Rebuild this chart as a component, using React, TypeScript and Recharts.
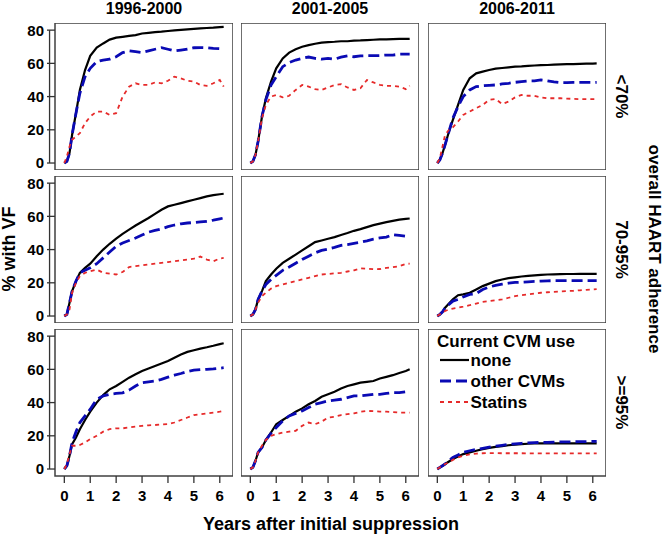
import React from 'react';
import { LineChart, Line, XAxis, YAxis, ReferenceArea, ReferenceLine, Legend } from 'recharts';

const periods = ['1996-2000', '2001-2005', '2006-2011'];
const adherence = ['<70%', '70-95%', '>=95%'];
const seriesNames = ['none', 'other CVMs', 'Statins'];
const yTicks = [0, 20, 40, 60, 80];
const xTicks = [0, 1, 2, 3, 4, 5, 6];

// years after initial suppression (shared sampling grid)
const years = [0, 0.1, 0.2, 0.3, 0.45, 0.6, 0.8, 1, 1.25, 1.5, 1.75, 2, 2.25, 2.5, 2.75, 3, 3.25, 3.5, 3.75, 4, 4.25, 4.5, 4.75, 5, 5.25, 5.5, 5.75, 6, 6.15];

// adherence <70%
const none_96_lo = [0, 1, 6, 17, 30, 44, 56, 64.5, 69.5, 72, 74.3, 75.5, 76, 76.5, 77, 78, 78.4, 78.8, 79.1, 79.5, 79.9, 80.2, 80.5, 80.8, 81.1, 81.3, 81.5, 81.8, 82];
const other_96_lo = [0, 1, 6, 17, 30, 42, 52, 57, 61, 62, 62.5, 64, 66.5, 67.5, 67, 66.5, 67.5, 68.5, 69.4, 68.5, 67.5, 68, 68.5, 69.4, 69.5, 69.4, 69, 68.8, 69.5];
const statins_96_lo = [0, 4, 10, 14, 16, 18, 24, 28, 31, 31, 29, 30, 40, 46, 48, 47, 47, 48.5, 48, 49.5, 52, 51, 49.5, 49, 47, 46.5, 48, 50, 46];
const none_01_lo = [0, 1, 5, 13, 28, 39, 49, 57, 63, 66.5, 68.5, 70, 71, 71.8, 72.5, 72.8, 73, 73.3, 73.3, 73.7, 73.8, 74, 74.2, 74.4, 74.5, 74.6, 74.7, 74.7, 74.8];
const other_01_lo = [0, 1, 5, 13, 28, 38, 47, 52, 58, 60.5, 62, 63, 63.8, 63, 62.5, 63, 62.5, 63.8, 64.5, 64, 64.5, 64.6, 64.6, 64.7, 65, 65, 65.5, 65.6, 65.6];
const statins_01_lo = [0, 1, 5, 13, 27, 35, 40, 41, 39.5, 40.5, 44, 47, 46, 44.5, 44, 45.5, 47, 47.5, 45.5, 44, 45, 50, 48.5, 47, 46.5, 46.5, 46, 44.5, 46.5];
const none_06_lo = [0, 2, 6, 11, 19, 26, 35, 44, 51, 54, 55, 56, 56.8, 57.2, 57.6, 58, 58.2, 58.5, 58.7, 58.9, 59, 59.2, 59.4, 59.5, 59.6, 59.7, 59.8, 59.9, 60];
const other_06_lo = [0, 2, 6, 11, 19, 27, 34, 40, 44, 46, 46.5, 46.8, 47, 47.6, 48, 48.6, 49, 49.4, 49.4, 50, 49.5, 48.8, 48.4, 48.4, 48.5, 48.5, 48.5, 48.5, 48.6];
const statins_06_lo = [0, 3, 10, 17, 20, 21.5, 25, 29, 31, 33, 35, 38, 38.5, 35.5, 37, 39.5, 41, 40.5, 40.5, 39.5, 39, 39, 39, 38.8, 38.6, 38.5, 38.5, 38.5, 38.5];

// adherence 70-95%
const none_96_mid = [0, 1, 8, 15, 21, 26, 29, 31.5, 36, 40, 43.5, 46.6, 49.5, 52, 54.5, 56.8, 59, 61.5, 64, 66, 67, 68, 69, 70, 71, 72, 72.8, 73.3, 73.6];
const other_96_mid = [0, 1, 8, 15, 21, 26, 27.5, 29, 31.5, 35, 38.5, 42, 44, 45.5, 47, 48.8, 50.5, 51.5, 52.5, 53.8, 54.8, 55.5, 56, 56.3, 56.7, 57, 57.7, 58.5, 59];
const statins_96_mid = [0, 1, 4, 14, 20, 24, 26, 27, 28, 26, 25.5, 25, 26.5, 29.5, 30, 30.5, 31, 31.5, 32, 32.5, 33, 33.5, 34, 34.5, 35.8, 34, 33, 34.6, 35];
const none_01_mid = [0, 1, 4, 10, 15, 21, 25, 28.5, 32, 34.5, 37, 39.5, 42, 44.5, 45.5, 46.5, 47.5, 48.8, 50, 51.3, 52.3, 53.5, 54.7, 55.6, 56.5, 57.3, 58, 58.5, 58.7];
const other_01_mid = [0, 1, 4, 10, 15, 19, 22, 24.5, 27.5, 29.5, 31.8, 34, 36, 38, 39.5, 40.3, 41.3, 42.5, 43, 43.8, 44.5, 45.3, 46.3, 47, 47.5, 49, 48.5, 48, 48];
const statins_01_mid = [0, 1, 4, 8, 12, 14, 16.5, 18, 19, 20, 21, 22, 23, 24, 25, 25.3, 25.7, 26, 26.8, 27.5, 28.7, 28.5, 28.2, 28.3, 29, 29.4, 30, 31.4, 31.5];
const none_06_mid = [0, 1, 2.5, 5, 7.5, 10, 12.5, 13, 14, 16, 18, 19.5, 21, 22, 22.8, 23.3, 23.8, 24.2, 24.5, 24.8, 25, 25.1, 25.2, 25.3, 25.3, 25.4, 25.4, 25.4, 25.4];
const other_06_mid = [0, 1, 2.5, 5, 7, 9, 10, 11.5, 13, 13.5, 16, 17.5, 18.5, 19.2, 19.8, 20.2, 20.4, 20.6, 20.8, 21, 21.2, 21.3, 21.3, 21.3, 21.3, 21.3, 21.3, 21.3, 21.3];
const statins_06_mid = [0, 1, 2, 3, 4, 4.5, 5, 5.6, 6.5, 7.5, 8.5, 9, 9.5, 10, 11, 12, 12.5, 13, 13.5, 14, 14.3, 14.5, 14.8, 15, 15.2, 15.5, 15.8, 16, 16.2];

// adherence >=95%
const none_96_hi = [0, 2, 8, 15, 19, 24, 29.5, 34.5, 40, 44.5, 48, 50, 52.5, 55, 57, 59, 60.5, 62, 63.5, 65, 67, 69, 70.5, 71.5, 72.5, 73.3, 74.2, 75.2, 75.7];
const other_96_hi = [0, 2, 8, 16, 22.5, 28, 32, 36, 42, 44, 45, 45.5, 45.9, 47.5, 50, 52, 52.5, 53, 54, 55.3, 56.5, 57.5, 58.7, 59.5, 59.8, 60, 60.3, 60.7, 61];
const statins_96_hi = [0, 3, 9, 14, 14, 14.5, 16, 18, 20, 22.5, 24, 24.5, 24.5, 25, 25.5, 26, 26.3, 26.5, 26.8, 27, 28, 29.5, 31, 32.5, 33, 33.5, 34, 34.5, 35];
const none_01_hi = [0, 1, 5, 10, 13, 17.5, 22, 27, 29.5, 32, 34.5, 36.5, 39, 41, 43.5, 45, 46.5, 48.5, 50, 51, 52, 52.5, 53, 54.5, 55.5, 56.5, 57.8, 59, 60];
const other_01_hi = [0, 1, 5, 10, 13, 17.5, 21.5, 25, 29, 32, 33.5, 35, 37, 39, 40, 41, 41.5, 42, 43, 44, 44, 44.5, 45, 45, 45.5, 46, 46, 46.5, 47.5];
const statins_01_hi = [0, 1, 5, 10, 14, 17.5, 20, 21, 22, 22.5, 23, 26, 28, 27, 28.5, 31, 31.5, 32.5, 33, 33.5, 34.5, 35, 34.8, 34.6, 34.5, 34.3, 34, 34, 34];
const none_06_hi = [0, 1, 2, 3, 4.5, 6, 7.5, 9, 10, 11, 12, 12.7, 13.3, 13.8, 14.3, 14.7, 15, 15.2, 15.4, 15.5, 15.5, 15.5, 15.5, 15.5, 15.5, 15.5, 15.5, 15.5, 15.5];
const other_06_hi = [0, 1, 2, 3, 5, 7, 8.5, 10, 11, 11.8, 12.5, 13.2, 13.8, 14.3, 14.8, 15.2, 15.5, 15.7, 15.9, 16, 16.1, 16.2, 16.3, 16.4, 16.4, 16.5, 16.5, 16.6, 16.6];
const statins_06_hi = [0, 1, 2, 3, 4, 5.5, 7, 8, 8.8, 9.3, 9.5, 9.6, 9.6, 9.5, 9.5, 9.5, 9.5, 9.4, 9.4, 9.4, 9.4, 9.4, 9.4, 9.4, 9.4, 9.4, 9.4, 9.4, 9.4];

// [row][col] -> [none, other, statins]
const panelSeries = [
  [[none_96_lo, other_96_lo, statins_96_lo], [none_01_lo, other_01_lo, statins_01_lo], [none_06_lo, other_06_lo, statins_06_lo]],
  [[none_96_mid, other_96_mid, statins_96_mid], [none_01_mid, other_01_mid, statins_01_mid], [none_06_mid, other_06_mid, statins_06_mid]],
  [[none_96_hi, other_96_hi, statins_96_hi], [none_01_hi, other_01_hi, statins_01_hi], [none_06_hi, other_06_hi, statins_06_hi]],
];

const FONT = '"Liberation Sans", Arial, Helvetica, sans-serif';
const X_DOMAIN: [number, number] = [-0.36, 6.51];
const Y_DOMAIN: [number, number] = [-4.2, 84.3];
const Y_SPINE = -0.57;
const LEFTS = [55, 241, 428];
const TOPS = [23, 176, 329];
const PW = 178;
const PH = 147;
const Y_AXIS_W = 45;
const X_AXIS_H = 32;

const STYLES = [
  { key: 'none', stroke: '#000000', width: 2.2, dash: undefined },
  { key: 'other', stroke: '#0a0ab4', width: 2.8, dash: '11 5' },
  { key: 'statins', stroke: '#e62a2a', width: 1.8, dash: '4 4' },
];

const YTick = (props: any) => {
  const { x, y, payload } = props;
  return (
    <g>
      <line x1={x - 8} x2={x} y1={y} y2={y} stroke="#333" strokeWidth={1.3} />
      <text x={x - 11} y={y} dy="0.36em" textAnchor="end" fontSize={15} fontWeight="bold" fill="#000" fontFamily={FONT}>
        {payload.value}
      </text>
    </g>
  );
};

const XTick = (props: any) => {
  const { x, y, payload } = props;
  return (
    <g>
      <line x1={x} x2={x} y1={y} y2={y + 7} stroke="#333" strokeWidth={1.3} />
      <text x={x} y={y + 25} textAnchor="middle" fontSize={15} fontWeight="bold" fill="#000" fontFamily={FONT}>
        {payload.value}
      </text>
    </g>
  );
};

const LegendBox = () => (
  <svg width={PW} height={90} style={{ display: 'block' }}>
    <text x={9} y={18} fontSize={17} fontWeight="bold" fontFamily={FONT}>Current CVM use</text>
    {STYLES.map((s, i) => {
      const ly = 31 + i * 21;
      return (
        <g key={s.key}>
          <line x1={12} x2={41} y1={ly} y2={ly} stroke={s.stroke} strokeWidth={s.width} strokeDasharray={s.dash} />
          <text x={42.5} y={ly + 6} fontSize={17} fontWeight="bold" fontFamily={FONT}>{seriesNames[i]}</text>
        </g>
      );
    })}
  </svg>
);

function Panel({ row, col }: { row: number; col: number }) {
  const [none, other, statins] = panelSeries[row][col];
  const data = years.map((t, i) => ({ t, none: none[i], other: other[i], statins: statins[i] }));
  const showY = col === 0;
  const showX = row === 2;
  const yw = showY ? Y_AXIS_W : 0;
  const xh = showX ? X_AXIS_H : 0;
  return (
    <div style={{ position: 'absolute', left: LEFTS[col] - yw, top: TOPS[row] }}>
      <LineChart width={PW + yw} height={PH + xh} data={data} margin={{ top: 0, right: 0, bottom: 0, left: 0 }}>
        <XAxis
          dataKey="t"
          type="number"
          domain={X_DOMAIN}
          allowDataOverflow
          ticks={xTicks}
          interval={0}
          hide={!showX}
          height={X_AXIS_H}
          axisLine={false}
          tickLine={false}
          tickSize={0}
          tickMargin={0}
          tick={<XTick />}
        />
        <YAxis
          type="number"
          domain={Y_DOMAIN}
          allowDataOverflow
          ticks={yTicks}
          interval={0}
          hide={!showY}
          width={Y_AXIS_W}
          axisLine={false}
          tickLine={false}
          tickSize={0}
          tickMargin={0}
          tick={<YTick />}
        />
        <ReferenceArea
          x1={X_DOMAIN[0]}
          x2={X_DOMAIN[1]}
          y1={Y_DOMAIN[0]}
          y2={Y_DOMAIN[1]}
          fill="none"
          stroke="#404040"
          strokeWidth={1.5}
          ifOverflow="visible"
        />
        {showY && (
          <ReferenceLine
            segment={[{ x: Y_SPINE, y: 0 }, { x: Y_SPINE, y: 80 }]}
            stroke="#333"
            strokeWidth={1.3}
            ifOverflow="visible"
          />
        )}
        {STYLES.map((s) => (
          <Line
            key={s.key}
            type="linear"
            dataKey={s.key}
            stroke={s.stroke}
            strokeWidth={s.width}
            strokeDasharray={s.dash}
            dot={false}
            activeDot={false}
            isAnimationActive={false}
          />
        ))}
        {row === 2 && col === 2 && (
          <Legend
            layout="vertical"
            align="center"
            verticalAlign="middle"
            content={<LegendBox />}
            wrapperStyle={{ left: 0, top: 0, width: PW, height: 90 }}
          />
        )}
      </LineChart>
    </div>
  );
}

export default function App() {
  return (
    <div style={{ position: 'absolute', left: 0, top: 0, width: 663, height: 535, background: '#fff', fontFamily: FONT }}>
      <svg width={663} height={535} style={{ position: 'absolute', left: 0, top: 0 }}>
        {periods.map((p, c) => (
          <text key={p} x={LEFTS[c] + PW / 2} y={14} textAnchor="middle" fontSize={16} fontWeight="bold" fontFamily={FONT}>
            {p}
          </text>
        ))}
        {adherence.map((a, r) => {
          const cy = TOPS[r] + PH / 2;
          return (
            <text key={a} x={0} y={0} transform={`translate(616, ${cy}) rotate(90)`} textAnchor="middle" fontSize={17} fontWeight="bold" fontFamily={FONT}>
              {a}
            </text>
          );
        })}
        <text transform="translate(649, 249) rotate(90)" textAnchor="middle" fontSize={17} fontWeight="bold" fontFamily={FONT}>
          overall HAART adherence
        </text>
        <text transform="translate(15, 249) rotate(-90)" textAnchor="middle" fontSize={18} fontWeight="bold" fontFamily={FONT}>
          % with VF
        </text>
        <text x={331} y={530} textAnchor="middle" fontSize={18} fontWeight="bold" fontFamily={FONT}>
          Years after initial suppression
        </text>
      </svg>
      {[0, 1, 2].map((r) => [0, 1, 2].map((c) => <Panel key={`${r}-${c}`} row={r} col={c} />))}
    </div>
  );
}
